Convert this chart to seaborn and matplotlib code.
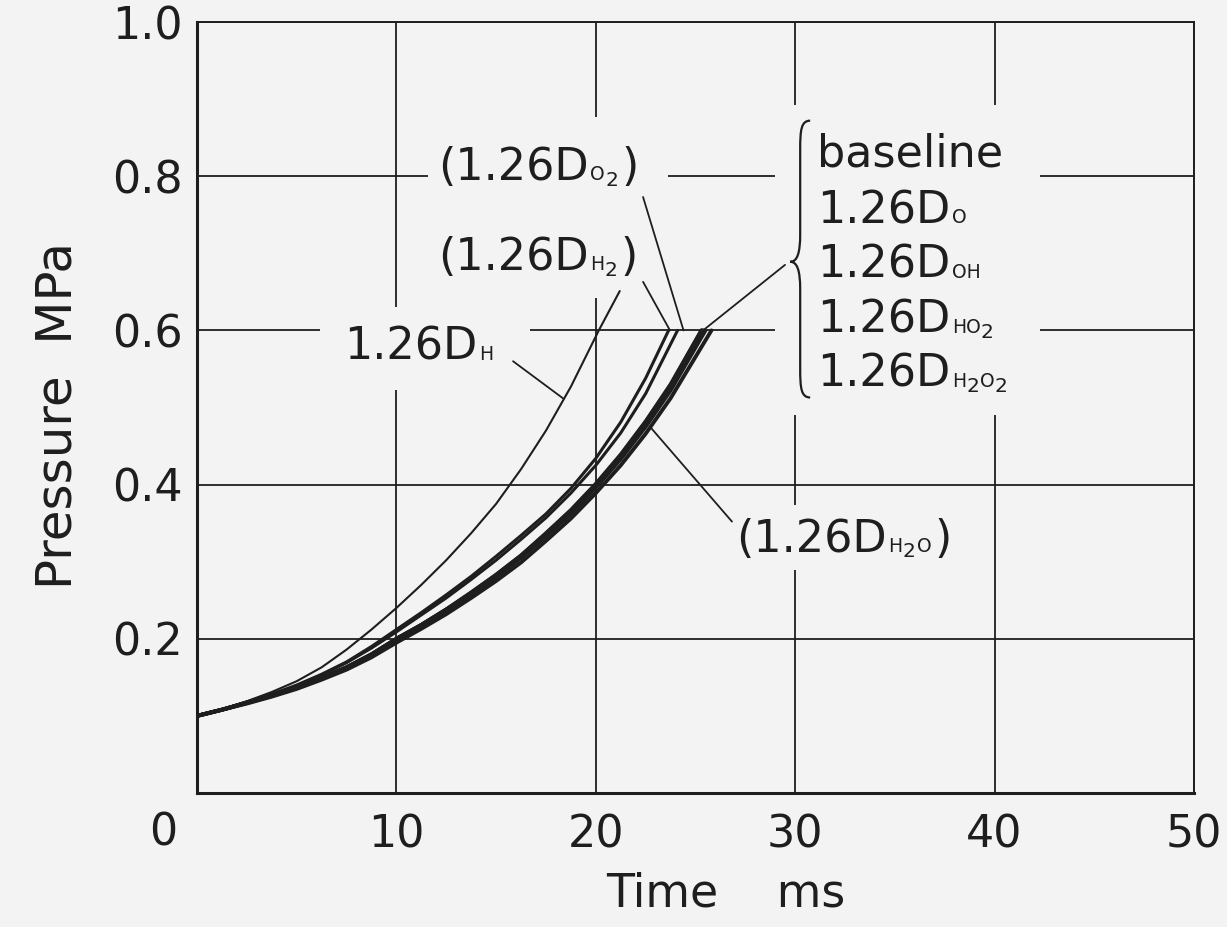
import numpy as np
import pandas as pd
import matplotlib
matplotlib.use("Agg")
import matplotlib.pyplot as plt
from matplotlib.path import Path
from matplotlib.patches import PathPatch, Rectangle
from matplotlib.font_manager import FontProperties
import seaborn as sns

# ---------------- data ----------------
t_std = [0, 1.25, 2.5, 3.75, 5, 6.25, 7.5, 8.75, 10, 11.25, 12.5, 13.75,
         15, 16.25, 17.5, 18.75, 20, 21.25, 22.5]

t_DH = [0, 1.25, 2.5, 3.75, 5, 6.25, 7.5, 8.75, 10, 11.25, 12.5, 13.75,
        15, 16.25, 17.5, 18.75, 20.15, 21.2]
p_DH = [0.100, 0.109, 0.119, 0.131, 0.145, 0.163, 0.186, 0.212, 0.240, 0.270,
        0.302, 0.337, 0.375, 0.420, 0.470, 0.527, 0.600, 0.651]

t_DH2 = t_std + [23.65]
p_DH2 = [0.100, 0.108, 0.118, 0.128, 0.140, 0.154, 0.170, 0.190, 0.212, 0.234,
         0.257, 0.281, 0.307, 0.334, 0.362, 0.395, 0.434, 0.481, 0.538, 0.600]

t_DO2 = t_std + [24.1]
p_DO2 = [0.100, 0.108, 0.118, 0.128, 0.139, 0.153, 0.169, 0.188, 0.209, 0.231,
         0.253, 0.277, 0.302, 0.329, 0.357, 0.389, 0.425, 0.467, 0.518, 0.600]

t_base = t_std + [23.75, 25.3]
p_base = [0.100, 0.108, 0.117, 0.126, 0.137, 0.149, 0.163, 0.180, 0.200, 0.218,
          0.238, 0.260, 0.283, 0.308, 0.337, 0.367, 0.401, 0.439, 0.482, 0.530, 0.600]

t_DO = t_std + [23.75, 25.4]
p_DO = [0.100, 0.108, 0.117, 0.126, 0.137, 0.149, 0.162, 0.179, 0.199, 0.217,
        0.237, 0.258, 0.281, 0.306, 0.334, 0.364, 0.398, 0.435, 0.478, 0.526, 0.600]

t_DOH = t_std + [23.75, 25.5]
p_DOH = [0.100, 0.108, 0.117, 0.126, 0.136, 0.148, 0.162, 0.178, 0.198, 0.216,
         0.236, 0.257, 0.280, 0.305, 0.333, 0.362, 0.396, 0.433, 0.475, 0.522, 0.600]

t_DHO2 = t_std + [23.75, 25.3]
p_DHO2 = [0.100, 0.108, 0.117, 0.126, 0.137, 0.149, 0.163, 0.180, 0.200, 0.218,
          0.238, 0.260, 0.283, 0.308, 0.336, 0.366, 0.400, 0.438, 0.481, 0.529, 0.600]

t_DH2O2 = t_std + [23.75, 25.35]
p_DH2O2 = [0.100, 0.108, 0.117, 0.126, 0.137, 0.149, 0.163, 0.179, 0.200, 0.218,
           0.238, 0.259, 0.282, 0.307, 0.336, 0.366, 0.399, 0.437, 0.480, 0.528, 0.600]

t_DH2O = t_std + [23.75, 25.8]
p_DH2O = [0.100, 0.108, 0.116, 0.125, 0.135, 0.147, 0.160, 0.176, 0.195, 0.213,
          0.232, 0.253, 0.275, 0.299, 0.327, 0.356, 0.389, 0.425, 0.466, 0.512, 0.600]

x_ticks = [10, 20, 30, 40, 50]
y_ticks = [0.2, 0.4, 0.6, 0.8, 1.0]
x_ticklabels = ["10", "20", "30", "40", "50"]
y_ticklabels = ["0.2", "0.4", "0.6", "0.8", "1.0"]

series = [
    ("1.26D_H", t_DH, p_DH, 1.5),
    ("1.26D_H2", t_DH2, p_DH2, 2.2),
    ("1.26D_O2", t_DO2, p_DO2, 2.2),
    ("baseline", t_base, p_base, 2.8),
    ("1.26D_O", t_DO, p_DO, 2.8),
    ("1.26D_OH", t_DOH, p_DOH, 2.8),
    ("1.26D_HO2", t_DHO2, p_DHO2, 2.8),
    ("1.26D_H2O2", t_DH2O2, p_DH2O2, 2.8),
    ("1.26D_H2O", t_DH2O, p_DH2O, 2.8),
]

# ---------------- style ----------------
sns.set_style("white")
BG = "#f3f3f3"
INK = "#1e1e1e"
plt.rcParams["font.family"] = ["DejaVu Sans"]

DPI = 100
fig = plt.figure(figsize=(12.27, 9.27), dpi=DPI, facecolor=BG)
ax = fig.add_axes([197 / 1227, 1 - 793 / 927, 997 / 1227, 771 / 927])
ax.set_facecolor(BG)

for name, t, p, lw in series:
    df = pd.DataFrame({"t": t, "P": p})
    sns.lineplot(data=df, x="t", y="P", ax=ax, color=INK, lw=lw,
                 legend=False, zorder=4)

ax.set_xlim(0, 50)
ax.set_ylim(0, 1.0)
ax.set_xticks(x_ticks)
ax.set_xticklabels(x_ticklabels)
ax.set_yticks(y_ticks)
ax.set_yticklabels(y_ticklabels)
ax.tick_params(axis="both", length=0, labelsize=32, colors=INK)
ax.tick_params(axis="x", pad=15)
ax.tick_params(axis="y", pad=10)
ax.grid(True, color=INK, lw=1.3, zorder=1)
ax.set_axisbelow(True)
for side, sp in ax.spines.items():
    sp.set_color(INK)
    sp.set_linewidth(2.2 if side in ("left", "bottom") else 1.4)

ax.set_xlabel("Time    ms", fontsize=33, color=INK)
ax.xaxis.set_label_coords(0.530, -0.102)
ax.set_ylabel("Pressure  MPa", fontsize=36, color=INK)
ax.yaxis.set_label_coords(-0.116, 0.49)

ax.annotate("0", xy=(0, 0), xytext=(-34, -40), textcoords="offset pixels",
            ha="center", va="center", fontsize=32, color=INK)

# ---------------- labels with small subscripts ----------------
FS = 32
SUB_FS = 13.5
NUM_FS = 14.5
renderer = fig.canvas.get_renderer()
_, _, d_px = renderer.get_text_width_height_descent(
    "lp", FontProperties(family="DejaVu Sans", size=FS), ismath=False)
DESC = d_px * 72 / DPI


def label(x, y, pieces):
    first = ax.text(x, y, pieces[0], fontsize=FS, va="baseline", ha="left",
                    color=INK, zorder=6)
    prev = first
    for txt, kind in pieces[1:]:
        if kind == "main":
            fs, dy, gap = FS, 0, 2.5
        elif kind == "sub":
            fs, dy, gap = SUB_FS, 0, (1.0 if prev is first else 0.5)
        else:
            fs, dy, gap = NUM_FS, -4, 0.3
        prev = ax.annotate(txt, xy=(1, 0), xycoords=(prev, first),
                           xytext=(gap, DESC + dy), textcoords="offset points",
                           fontsize=fs, va="baseline", ha="left", color=INK,
                           zorder=6)


# background masks that break the grid behind the labels
masks = [((11.58, 0.642), 12.04, 0.235),
         ((6.17, 0.523), 10.53, 0.107),
         ((26.73, 0.289), 12.8, 0.085),
         ((28.99, 0.490), 13.3, 0.402)]
for (mx, my), mw, mh in masks:
    ax.add_patch(Rectangle((mx, my), mw, mh, fc=BG, ec="none", zorder=2))

label(12.09, 0.795, ["(1.26D", ("O", "sub"), ("2", "num"), (")", "main")])
label(12.09, 0.678, ["(1.26D", ("H", "sub"), ("2", "num"), (")", "main")])
label(7.4, 0.562, ["1.26D", ("H", "sub")])
label(27.05, 0.313, ["(1.26D", ("H", "sub"), ("2", "num"), ("O", "sub"),
                     (")", "main")])

right_labels = [["baseline"],
                ["1.26D", ("O", "sub")],
                ["1.26D", ("OH", "sub")],
                ["1.26D", ("HO", "sub"), ("2", "num")],
                ["1.26D", ("H", "sub"), ("2", "num"), ("O", "sub"), ("2", "num")]]
right_base = [0.812, 0.739, 0.668, 0.597, 0.527]
for pieces, yb in zip(right_labels, right_base):
    label(31.1, yb, pieces)

# brace
verts = [(30.75, 0.872),
         (30.30, 0.872), (30.25, 0.860), (30.25, 0.835),
         (30.25, 0.725),
         (30.25, 0.700), (30.10, 0.689), (29.75, 0.689),
         (30.10, 0.689), (30.25, 0.678), (30.25, 0.653),
         (30.25, 0.550),
         (30.25, 0.525), (30.30, 0.513), (30.75, 0.513)]
codes = [Path.MOVETO,
         Path.CURVE4, Path.CURVE4, Path.CURVE4,
         Path.LINETO,
         Path.CURVE4, Path.CURVE4, Path.CURVE4,
         Path.CURVE4, Path.CURVE4, Path.CURVE4,
         Path.LINETO,
         Path.CURVE4, Path.CURVE4, Path.CURVE4]
ax.add_patch(PathPatch(Path(verts, codes), fc="none", ec=INK, lw=1.6, zorder=5))

# leader lines
leaders = [((15.85, 0.560), (18.35, 0.512)),
           ((22.37, 0.663), (23.72, 0.600)),
           ((22.37, 0.773), (24.40, 0.600)),
           ((29.49, 0.685), (25.38, 0.600)),
           ((22.72, 0.475), (26.83, 0.352))]
for (x0, y0), (x1, y1) in leaders:
    ax.plot([x0, x1], [y0, y1], color=INK, lw=1.3, zorder=5)

fig.savefig("out.png", dpi=DPI, facecolor=BG)
